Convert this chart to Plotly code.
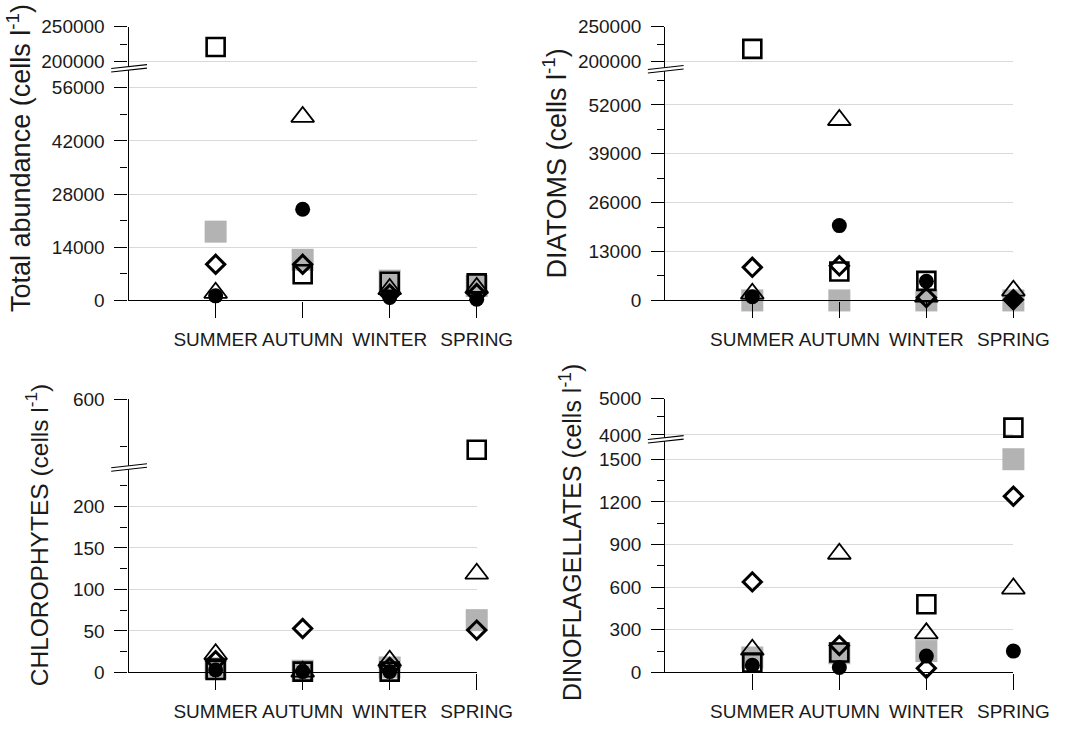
import plotly.graph_objects as go

# ---------------- data ----------------
SEASONS = ["SUMMER", "AUTUMN", "WINTER", "SPRING"]
X_POS = [1, 2, 3, 4]

# Total abundance (cells l-1)
total_open_square = [220800, 6900, 4900, 4500]
total_gray_square = [18100, 10700, 5200, 3800]
total_diamond = [9500, 9500, 1600, 1800]
total_circle = [1200, 24000, 800, 300]
total_triangle = [2000, 48300, 3000, 3300]

# Diatoms (cells l-1)
diatoms_open_square = [218000, 7700, 5200, None]
diatoms_gray_square = [0, 0, 0, 0]
diatoms_diamond = [8800, 9200, 800, 200]
diatoms_circle = [1000, 19900, 5100, 200]
diatoms_triangle = [1800, 48000, 1000, 2600]

# Chlorophytes (cells l-1)
chloro_open_square = [3, 1, 1, 546]
chloro_gray_square = [5, 2, 6, 63]
chloro_diamond = [14, 53, 6, 51]
chloro_circle = [3, 1, 1, None]
chloro_triangle = [22, 1, 14, 119]

# Dinoflagellates (cells l-1)
dino_open_square = [70, 140, 480, 4200]
dino_gray_square = [105, 135, 150, 1500]
dino_diamond = [637, 190, 30, 1240]
dino_circle = [50, 35, 115, 150]
dino_triangle = [160, 835, 275, 590]

# ---------------- styling ----------------
W, H = 1090, 732
FONT = "Liberation Sans, Arial, sans-serif"
TXT = "#1a1a1a"
GRID = "#d9d9d9"
GRAY = "#b3b3b3"
TICK_SIZE = 19

STYLES = {
    "gray": dict(symbol="square", size=22, color=GRAY, line=dict(width=0)),
    "open": dict(symbol="square-open", size=18, color="black", line=dict(width=2.6, color="black")),
    "tri": dict(symbol="triangle-up-open", size=20, color="black", line=dict(width=1.8, color="black")),
    "dia": dict(symbol="diamond-open", size=14, color="black", line=dict(width=3, color="black")),
    "circ": dict(symbol="circle", size=15, color="black", line=dict(width=0)),
}
ORDER = ["gray", "open", "tri", "dia", "circ"]


def fx(p):
    return p / W


def fy(p):
    return 1 - p / H


panels = [
    dict(title="Total abundance (cells l<sup>-1</sup>)",
         data=dict(gray=total_gray_square, open=total_open_square, tri=total_triangle,
                   dia=total_diamond, circ=total_circle),
         x0=133, x1=493, ybot=299, ybrk=60, ytop=17,
         lo=dict(rng=[0, 61100], dtick=14000, minor=7000),
         up=dict(rng=[190300, 250000], dtick=50000, minor=25000),
         tx=19, ty=152, tsize=27),
    dict(title="DIATOMS (cells l<sup>-1</sup>)",
         data=dict(gray=diatoms_gray_square, open=diatoms_open_square, tri=diatoms_triangle,
                   dia=diatoms_diamond, circ=diatoms_circle),
         x0=688, x1=1048, ybot=299, ybrk=61, ytop=17,
         lo=dict(rng=[0, 61500], dtick=13000, minor=6500),
         up=dict(rng=[188900, 250000], dtick=50000, minor=25000),
         tx=574, ty=158, tsize=27),
    dict(title="CHLOROPHYTES (cells l<sup>-1</sup>)",
         data=dict(gray=chloro_gray_square, open=chloro_open_square, tri=chloro_triangle,
                   dia=chloro_diamond, circ=chloro_circle),
         x0=133, x1=493, ybot=682, ybrk=471, ytop=401,
         lo=dict(rng=[0, 247], dtick=50, minor=25),
         up=dict(rng=[527, 600], dtick=100, minor=50),
         tx=38, ty=540, tsize=24.5),
    dict(title="DINOFLAGELLATES (cells l<sup>-1</sup>)",
         data=dict(gray=dino_gray_square, open=dino_open_square, tri=dino_triangle,
                   dia=dino_diamond, circ=dino_circle),
         x0=688, x1=1048, ybot=682, ybrk=442, ytop=400,
         lo=dict(rng=[0, 1640], dtick=300, minor=150),
         up=dict(rng=[3880, 5000], dtick=1000, minor=500),
         tx=590, ty=538, tsize=25),
]

fig = go.Figure()
layout = dict(
    width=W, height=H, margin=dict(l=0, r=0, t=0, b=0),
    paper_bgcolor="white", plot_bgcolor="white",
    showlegend=False, font=dict(family=FONT, size=TICK_SIZE, color=TXT),
    annotations=[], shapes=[],
)


def yaxis_def(spec, dom, anchor):
    return dict(
        domain=dom, anchor=anchor, range=spec["rng"], tick0=0, dtick=spec["dtick"],
        tickformat="d", exponentformat="none", separatethousands=False,
        showline=True, linecolor="black", linewidth=1.3,
        ticks="outside", ticklen=13, tickwidth=1.3, tickcolor="black",
        showgrid=True, gridcolor=GRID, gridwidth=1.3, zeroline=False,
        tickfont=dict(family=FONT, size=TICK_SIZE, color=TXT), ticklabelstandoff=6,
        minor=dict(dtick=spec["minor"], tick0=0, ticks="outside", ticklen=7,
                   tickwidth=1.3, tickcolor="black", showgrid=False),
        fixedrange=True,
    )


for i, p in enumerate(panels):
    xn = "x" if i == 0 else f"x{i + 1}"
    ylo = "y" if i == 0 else f"y{2 * i + 1}"
    yup = f"y{2 * i + 2}"
    xkey = "xaxis" if i == 0 else f"xaxis{i + 1}"
    ylokey = "yaxis" if i == 0 else f"yaxis{2 * i + 1}"
    yupkey = f"yaxis{2 * i + 2}"

    layout[xkey] = dict(
        domain=[fx(p["x0"]), fx(p["x1"])], anchor=ylo, range=[0, 4],
        tickmode="array", tickvals=X_POS, ticktext=SEASONS,
        showline=True, linecolor="black", linewidth=1.3,
        ticks="outside", ticklen=16, tickwidth=1.3, tickcolor="black",
        showgrid=False, zeroline=False, ticklabelstandoff=6,
        tickfont=dict(family=FONT, size=TICK_SIZE, color=TXT), fixedrange=True,
    )
    layout[ylokey] = yaxis_def(p["lo"], [fy(p["ybot"]), fy(p["ybrk"])], xn)
    layout[yupkey] = yaxis_def(p["up"], [fy(p["ybrk"]), fy(p["ytop"])], xn)

    lo_max = p["lo"]["rng"][1]
    up_min = p["up"]["rng"][0]
    for key in ORDER:
        vals = p["data"][key]
        lo_vals = [v if (v is not None and v <= lo_max) else None for v in vals]
        up_vals = [v if (v is not None and v >= up_min) else None for v in vals]
        for yn, vv in ((ylo, lo_vals), (yup, up_vals)):
            if all(v is None for v in vv):
                continue
            fig.add_trace(go.Scatter(
                x=X_POS, y=vv, mode="markers", xaxis=xn, yaxis=yn,
                marker=STYLES[key], cliponaxis=False, hoverinfo="skip",
            ))

    # axis-break marks
    ax, by = p["x0"], p["ybrk"]
    layout["shapes"].append(dict(type="line", xref="paper", yref="paper",
                                 x0=fx(ax - 18), y0=fy(by + 2.0), x1=fx(ax + 19), y1=fy(by - 2.0),
                                 line=dict(color="white", width=3.5)))
    for off in (-1.8, 1.8):
        layout["shapes"].append(dict(type="line", xref="paper", yref="paper",
                                     x0=fx(ax - 18), y0=fy(by + 2.0 + off), x1=fx(ax + 19), y1=fy(by - 2.0 + off),
                                     line=dict(color="black", width=1.1)))

    layout["annotations"].append(dict(
        text=p["title"], xref="paper", yref="paper", x=fx(p["tx"]), y=fy(p["ty"]),
        xanchor="center", yanchor="middle", textangle=-90, showarrow=False,
        font=dict(family=FONT, size=p["tsize"], color=TXT),
    ))

fig.update_layout(**layout)
fig.write_html("out.html", config={"displayModeBar": False},
               post_script="document.body.style.margin='0';")
